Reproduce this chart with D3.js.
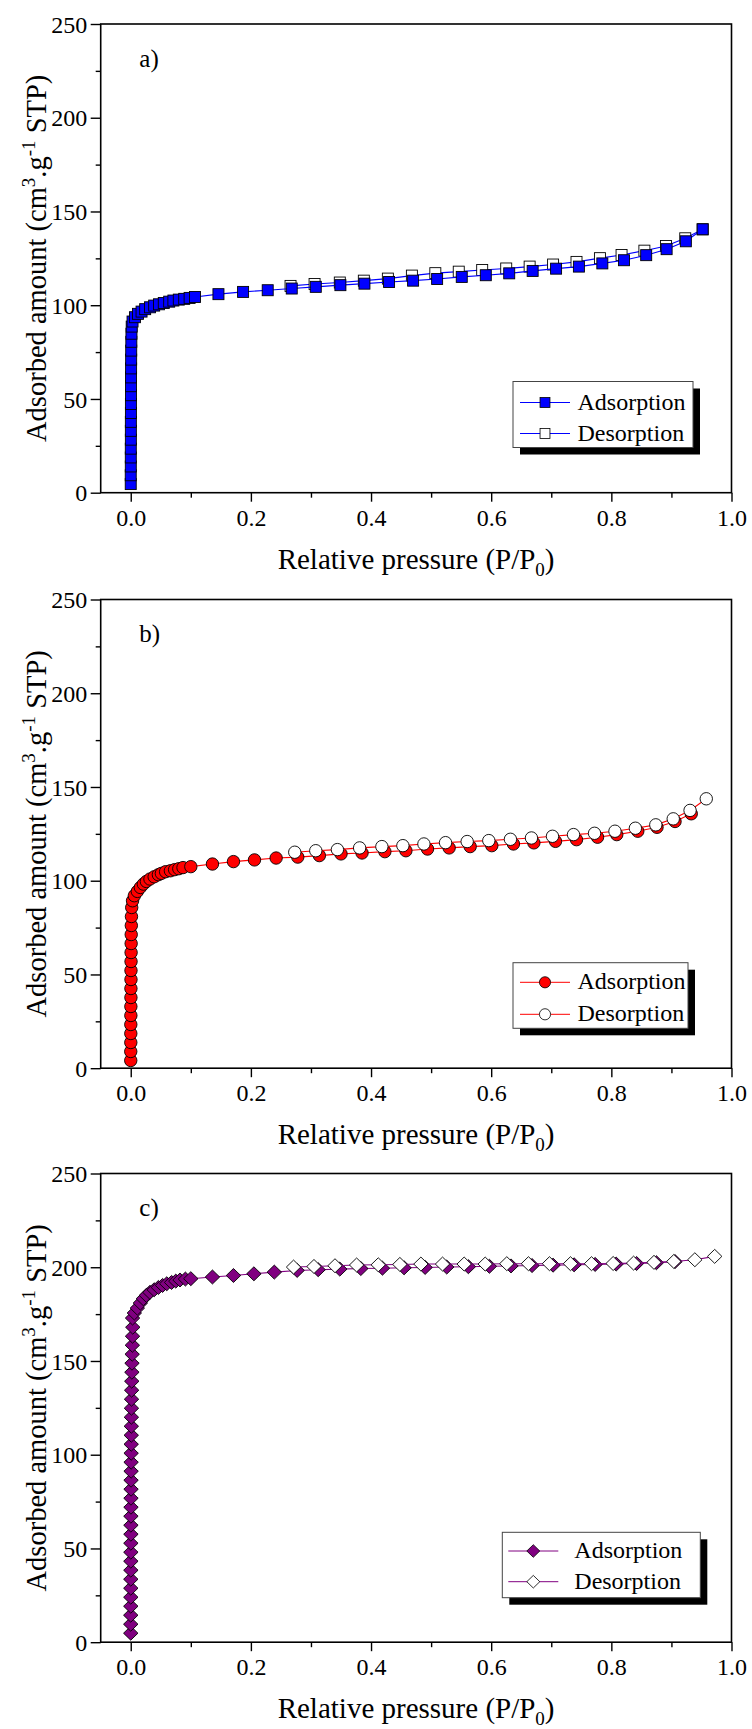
<!DOCTYPE html>
<html>
<head>
<meta charset="utf-8">
<script src="https://cdn.jsdelivr.net/npm/d3@7"></script>
<style>
  body { margin: 0; background: #fff; }
  text { font-family: "Liberation Serif", "Times New Roman", serif; fill: #000; }
</style>
</head>
<body>
<div id="svg-chart"></div>
<script>
var xTicks = [0.0, 0.2, 0.4, 0.6, 0.8, 1.0];
var xMinorTicks = [0.1, 0.3, 0.5, 0.7, 0.9];
var yTicks = [0, 50, 100, 150, 200, 250];
var yMinorTicks = [25, 75, 125, 175, 225];
var panelLabels = ["a)", "b)", "c)"];
var seriesNames = ["Adsorption", "Desorption"];

// a) blue squares
var aAdsX = [0.0000, 0.0000, 0.0001, 0.0001, 0.0001, 0.0002, 0.0002, 0.0002, 0.0003, 0.0003, 0.0004, 0.0004, 0.0005, 0.0006, 0.0007, 0.0008, 0.0010, 0.0012, 0.0016,
  0.003, 0.007, 0.012, 0.018, 0.024, 0.032, 0.039, 0.047, 0.055, 0.064, 0.071, 0.080, 0.089, 0.098, 0.107,
  0.146, 0.187, 0.228, 0.268, 0.308, 0.349, 0.389, 0.430, 0.470, 0.510, 0.551, 0.591, 0.630, 0.669, 0.708, 0.746, 0.785, 0.821, 0.858, 0.892, 0.924, 0.952];
var aAdsY = [4.6, 9.3, 14.0, 18.8, 23.5, 28.3, 33.0, 37.8, 42.5, 47.3, 52.0, 56.8, 61.5, 66.3, 71.0, 75.8, 80.5, 84.8, 88.6,
  91.3, 93.6, 95.4, 96.6, 97.9, 98.9, 99.8, 100.5, 101.2, 101.9, 102.5, 103.0, 103.4, 103.9, 104.4,
  105.9, 107.1, 108.0, 108.9, 109.8, 110.7, 111.5, 112.4, 113.1, 114.0, 115.1, 116.0, 117.0, 118.3, 119.5, 120.6, 122.3, 124.0, 126.7, 129.9, 134.1, 140.5];
var aDesX = [0.266, 0.306, 0.348, 0.388, 0.428, 0.468, 0.507, 0.546, 0.585, 0.625, 0.664, 0.703, 0.742, 0.781, 0.817, 0.855, 0.891, 0.923, 0.952];
var aDesY = [110.3, 111.3, 112.1, 113.1, 114.2, 115.8, 117.1, 117.9, 118.8, 119.6, 120.6, 121.7, 123.1, 125.1, 126.8, 129.1, 131.6, 135.7, 140.5];

// b) red circles
var bAdsX = [0.0000, 0.0000, 0.0001, 0.0001, 0.0001, 0.0002, 0.0002, 0.0003, 0.0003, 0.0004, 0.0004, 0.0005, 0.0006, 0.0007, 0.0008, 0.0010, 0.0012, 0.0016,
  0.003, 0.006, 0.011, 0.016, 0.021, 0.026, 0.032, 0.039, 0.046, 0.051, 0.058, 0.066, 0.073, 0.080, 0.087, 0.100,
  0.136, 0.171, 0.206, 0.242, 0.278, 0.314, 0.350, 0.385, 0.423, 0.458, 0.494, 0.530, 0.565, 0.601, 0.637, 0.671, 0.707, 0.742, 0.777, 0.809, 0.844, 0.876, 0.906, 0.933];
var bAdsY = [4.1, 8.9, 13.7, 18.5, 23.3, 28.1, 32.9, 37.7, 42.5, 47.3, 52.1, 56.9, 61.7, 66.5, 71.3, 76.1, 80.9, 85.7,
  89.3, 92.0, 94.3, 96.4, 98.2, 99.6, 100.9, 102.1, 103.2, 103.9, 104.8, 105.3, 105.9, 106.4, 107.0, 107.5,
  108.9, 110.2, 111.1, 112.1, 112.6, 113.4, 114.3, 114.8, 115.5, 116.0, 116.9, 117.5, 118.2, 118.7, 119.6, 120.2, 121.0, 121.9, 123.2, 124.6, 126.4, 128.5, 131.6, 135.7];
var bDesX = [0.273, 0.308, 0.344, 0.381, 0.418, 0.453, 0.488, 0.524, 0.560, 0.596, 0.632, 0.667, 0.702, 0.737, 0.772, 0.806, 0.840, 0.874, 0.903, 0.931, 0.958];
var bDesY = [115.2, 116.0, 116.6, 117.5, 118.2, 118.7, 119.6, 120.3, 120.9, 121.4, 122.1, 122.8, 123.7, 124.6, 125.3, 126.4, 128.0, 129.8, 133.0, 137.5, 143.7];

// c) purple diamonds
var cAdsX = [0.0000, 0.0000, 0.0000, 0.0001, 0.0001, 0.0001, 0.0001, 0.0002, 0.0002, 0.0002, 0.0002, 0.0003, 0.0003, 0.0003, 0.0004, 0.0004, 0.0005, 0.0005, 0.0006,
  0.0006, 0.0007, 0.0008, 0.0009, 0.0010, 0.0011, 0.0012, 0.0013, 0.0015, 0.0017, 0.0019, 0.0021, 0.0024, 0.0027, 0.0030, 0.0034,
  0.003, 0.006, 0.011, 0.016, 0.021, 0.026, 0.032, 0.039, 0.046, 0.053, 0.060, 0.068, 0.075, 0.082, 0.091, 0.100,
  0.136, 0.171, 0.205, 0.239, 0.277, 0.312, 0.348, 0.383, 0.419, 0.455, 0.490, 0.526, 0.562, 0.597, 0.633, 0.668, 0.703, 0.738, 0.773, 0.808, 0.842, 0.875, 0.906];
var cAdsY = [4.8, 9.6, 14.4, 19.2, 24.0, 28.8, 33.6, 38.4, 43.2, 48.0, 52.8, 57.6, 62.4, 67.2, 72.0, 76.8, 81.6, 86.4, 91.2,
  96.0, 100.8, 105.6, 110.4, 115.2, 120.0, 124.8, 129.6, 134.4, 139.2, 144.0, 148.8, 153.6, 158.4, 163.2, 168.0,
  172.9, 175.6, 178.2, 180.9, 183.2, 185.0, 186.6, 188.0, 189.2, 190.3, 191.2, 191.9, 192.6, 193.2, 193.7, 193.9,
  194.8, 195.6, 196.5, 197.4, 198.3, 198.7, 199.0, 199.3, 199.5, 199.7, 199.9, 200.1, 200.3, 200.5, 200.7, 200.9, 201.1, 201.3, 201.5, 201.7, 202.0, 202.4, 203.0];
var cDesX = [0.271, 0.305, 0.340, 0.376, 0.412, 0.448, 0.483, 0.519, 0.555, 0.590, 0.626, 0.662, 0.697, 0.732, 0.767, 0.803, 0.837, 0.871, 0.904, 0.939, 0.972];
var cDesY = [200.1, 200.4, 200.8, 201.2, 201.3, 201.5, 201.7, 201.7, 201.7, 201.7, 201.9, 201.9, 201.9, 201.9, 201.9, 202.0, 202.2, 202.6, 203.1, 204.0, 205.8];

// ---- layout ----
var svgWidth = 752, svgHeight = 1729;
var plotLeft = 100.7, plotRight = 731.5, plotH = 468.7;
var panelTops = [24, 599.5, 1173.5];
var fontFam = "Liberation Serif";

var panels = [
  { ads: [aAdsX, aAdsY], des: [aDesX, aDesY], color: "#0000ff", shape: "square", adsOnTop: true,
    legend: { x: 513, y: 357.5, w: 180, h: 66, r1: 21, r2: 52, lx0: 7, lx1: 57, tx: 64.5 } },
  { ads: [bAdsX, bAdsY], des: [bDesX, bDesY], color: "#ff0000", shape: "circle", adsOnTop: false,
    legend: { x: 513, y: 363.2, w: 175, h: 65.6, r1: 19.6, r2: 51.6, lx0: 7, lx1: 57, tx: 64.5 } },
  { ads: [cAdsX, cAdsY], des: [cDesX, cDesY], color: "#800080", shape: "diamond", adsOnTop: false,
    legend: { x: 502.3, y: 358.8, w: 198, h: 65.4, r1: 18.7, r2: 49.4, lx0: 6, lx1: 56, tx: 72 } }
];

var svg = d3.select("#svg-chart")
  .append("svg")
  .attr("width", svgWidth)
  .attr("height", svgHeight);

var xScale = d3.scaleLinear().domain([-0.05, 1.0]).range([0, plotRight - plotLeft]);
var yScale = d3.scaleLinear().domain([0, 250]).range([plotH, 0]);

function marker(sel, shape, fill) {
  if (shape === "square") {
    sel.append("rect").attr("x", -5.5).attr("y", -5.5).attr("width", 11).attr("height", 11);
  } else if (shape === "circle") {
    sel.append("circle").attr("r", 6.2);
  } else {
    sel.append("path").attr("d", "M0,-7L7.2,0L0,7L-7.2,0Z");
  }
  sel.selectAll("rect,circle,path")
    .attr("fill", fill)
    .attr("stroke", "#000")
    .attr("stroke-width", 0.9);
}

function drawSeries(g, xs, ys, color, shape, fill) {
  var pts = xs.map(function(x, i) { return [x, ys[i]]; });
  var line = d3.line()
    .x(function(d) { return xScale(d[0]); })
    .y(function(d) { return yScale(d[1]); });
  g.append("path")
    .datum(pts)
    .attr("d", line)
    .attr("fill", "none")
    .attr("stroke", color)
    .attr("stroke-width", 1.1);
  g.selectAll("g.pt")
    .data(pts)
    .enter()
    .append("g")
    .attr("transform", function(d) { return "translate(" + xScale(d[0]) + "," + yScale(d[1]) + ")"; })
    .each(function() { marker(d3.select(this), shape, fill); });
}

panels.forEach(function(p, i) {
  var chartGroup = svg.append("g").attr("transform", "translate(" + plotLeft + "," + panelTops[i] + ")");

  // axes
  var xAxis = d3.axisBottom(xScale).tickValues(xTicks).tickSize(9).tickSizeOuter(0).tickFormat(d3.format(".1f"));
  var xMinor = d3.axisBottom(xScale).tickValues(xMinorTicks).tickSize(5).tickSizeOuter(0).tickFormat("");
  var yAxis = d3.axisLeft(yScale).tickValues(yTicks).tickSize(10).tickSizeOuter(0).tickFormat(d3.format("d"));
  var yMinor = d3.axisLeft(yScale).tickValues(yMinorTicks).tickSize(5).tickSizeOuter(0).tickFormat("");

  var gx = chartGroup.append("g").attr("transform", "translate(0," + plotH + ")").call(xAxis);
  chartGroup.append("g").attr("transform", "translate(0," + plotH + ")").call(xMinor);
  var gy = chartGroup.append("g").call(yAxis);
  chartGroup.append("g").call(yMinor);

  chartGroup.selectAll("g").attr("font-family", fontFam);
  chartGroup.selectAll(".domain").remove();
  chartGroup.selectAll(".tick line").attr("stroke", "#000").attr("stroke-width", 1.4);
  gx.selectAll("text").attr("y", 33).attr("dy", 0)
    .attr("font-size", 24).attr("font-family", fontFam).attr("fill", "#000");
  gy.selectAll("text").attr("x", -13.4).attr("dy", "0.34em")
    .attr("font-size", 24).attr("font-family", fontFam).attr("fill", "#000");

  // frame
  chartGroup.append("rect")
    .attr("x", 0).attr("y", 0)
    .attr("width", plotRight - plotLeft).attr("height", plotH)
    .attr("fill", "none").attr("stroke", "#000").attr("stroke-width", 1.6);

  // data
  var dataGroup = chartGroup.append("g");
  if (p.adsOnTop) {
    drawSeries(dataGroup.append("g"), p.des[0], p.des[1], p.color, p.shape, "#fff");
    drawSeries(dataGroup.append("g"), p.ads[0], p.ads[1], p.color, p.shape, p.color);
  } else {
    drawSeries(dataGroup.append("g"), p.ads[0], p.ads[1], p.color, p.shape, p.color);
    drawSeries(dataGroup.append("g"), p.des[0], p.des[1], p.color, p.shape, "#fff");
  }

  // panel letter
  chartGroup.append("text")
    .attr("x", 38.6).attr("y", 42.7)
    .attr("font-family", fontFam)
    .attr("font-size", 25)
    .text(panelLabels[i]);

  // legend with drop shadow
  var L = p.legend;
  var lg = chartGroup.append("g").attr("transform", "translate(" + (L.x - plotLeft) + "," + L.y + ")");
  lg.append("rect").attr("x", 7).attr("y", 7).attr("width", L.w).attr("height", L.h).attr("fill", "#000");
  lg.append("rect").attr("x", 0).attr("y", 0).attr("width", L.w).attr("height", L.h)
    .attr("fill", "#fff").attr("stroke", "#444").attr("stroke-width", 1);
  [L.r1, L.r2].forEach(function(ry, k) {
    lg.append("line").attr("x1", L.lx0).attr("x2", L.lx1).attr("y1", ry).attr("y2", ry)
      .attr("stroke", p.color).attr("stroke-width", 1);
    var m = lg.append("g");
    marker(m, p.shape, k === 0 ? p.color : "#fff");
    m.attr("transform", "translate(" + ((L.lx0 + L.lx1) / 2) + "," + ry + ") scale(0.9)");
    lg.append("text").attr("x", L.tx).attr("y", ry + 7.2)
      .attr("font-family", fontFam)
      .attr("font-size", 24)
      .text(seriesNames[k]);
  });

  // x axis title
  var xt = chartGroup.append("text")
    .attr("x", (plotRight - plotLeft) / 2)
    .attr("y", plotH + 76)
    .attr("text-anchor", "middle")
    .attr("font-family", fontFam)
    .attr("font-size", 29);
  xt.append("tspan").text("Relative pressure (P/P");
  xt.append("tspan").attr("font-size", 19).attr("dy", 7).text("0");
  xt.append("tspan").attr("dy", -7).text(")");

  // y axis title
  var yt = chartGroup.append("text")
    .attr("transform", "translate(" + (46 - plotLeft) + "," + (plotH / 2) + ") rotate(-90)")
    .attr("text-anchor", "middle")
    .attr("font-family", fontFam)
    .attr("font-size", 28.5);
  yt.append("tspan").text("Adsorbed amount (cm");
  yt.append("tspan").attr("font-size", 19).attr("dy", -11).text("3");
  yt.append("tspan").attr("dy", 11).text(".g");
  yt.append("tspan").attr("font-size", 19).attr("dy", -11).text("-1");
  yt.append("tspan").attr("dy", 11).text(" STP)");
});
</script>
</body>
</html>
